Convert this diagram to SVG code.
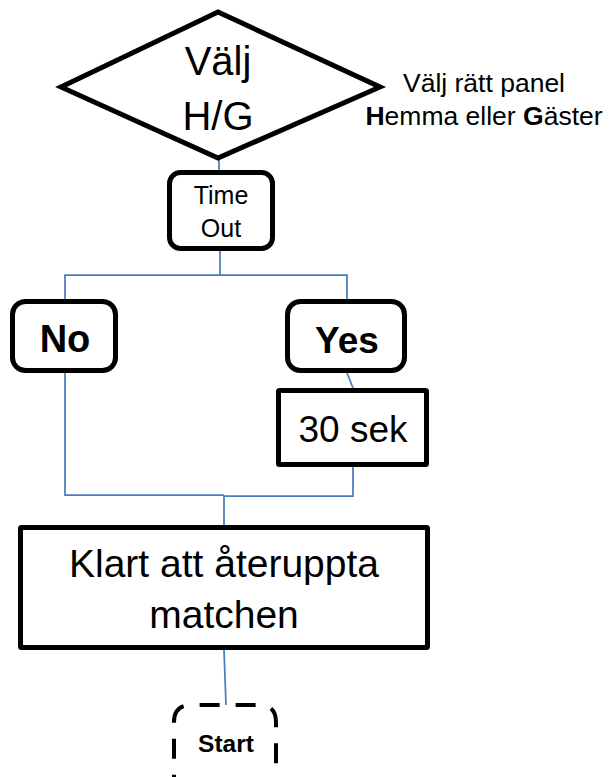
<svg xmlns="http://www.w3.org/2000/svg" width="613" height="777" viewBox="0 0 613 777">
<style>
.sh{fill:#fff;stroke:#000;stroke-width:5}
.t{font-family:"Liberation Sans",Arial,sans-serif;fill:#000;text-anchor:middle}
.b{font-weight:bold}
.c{fill:none;stroke:#4a7ebb;stroke-width:1.75}
</style>
<rect width="613" height="777" fill="#fff"/>
<g id="connectors">
<path class="c" d="M219,158 V172"/>
<path class="c" d="M220,251 V275"/>
<path class="c" d="M65,299 V275 H347 V299"/>
<path class="c" d="M347,373 L353,388"/>
<path class="c" d="M65,373 V495 H224"/>
<path class="c" d="M353,467 V496 H224"/>
<path class="c" d="M224,495 V525"/>
<path class="c" d="M224,650 L226,705"/>
</g>
<g id="valj">
<polygon class="sh" points="61,87 218,12 380,87 218,158"/>
<text class="t" x="218" y="75" font-size="40">Välj</text>
<text class="t" x="218" y="130" font-size="40">H/G</text>
</g>
<g id="note">
<text class="t" x="484" y="92" font-size="26.5">Välj rätt panel</text>
<text class="t" x="484" y="125" font-size="26.5"><tspan class="b">H</tspan>emma eller <tspan class="b">G</tspan>äster</text>
</g>
<g id="timeout">
<rect class="sh" x="169.5" y="172.5" width="103" height="76" rx="11"/>
<text class="t" x="221" y="204" font-size="25">Time</text>
<text class="t" x="221" y="237" font-size="25">Out</text>
</g>
<g id="no">
<rect class="sh" x="12.5" y="301.5" width="103" height="69" rx="13"/>
<text class="t b" x="65" y="352" font-size="38">No</text>
</g>
<g id="yes">
<rect class="sh" x="287.5" y="301.5" width="117" height="69" rx="13"/>
<text class="t b" x="347" y="353" font-size="37">Yes</text>
</g>
<g id="sek30">
<rect class="sh" x="278.5" y="390.5" width="148" height="74" rx="1"/>
<text class="t" x="353" y="442" font-size="37">30 sek</text>
</g>
<g id="klart">
<rect class="sh" x="20.5" y="527.5" width="407" height="120" rx="1"/>
<text class="t" x="224" y="577" font-size="39">Klart att återuppta</text>
<text class="t" x="224" y="628" font-size="39">matchen</text>
</g>
<g id="start">
<path d="M174,722 Q174,705 191,705 H259 Q276,705 276,722 V790 H174 Z" fill="#fff" stroke="#000" stroke-width="4" stroke-dasharray="20 16"/>
<text class="t b" x="226" y="752" font-size="24.5">Start</text>
</g>
</svg>
